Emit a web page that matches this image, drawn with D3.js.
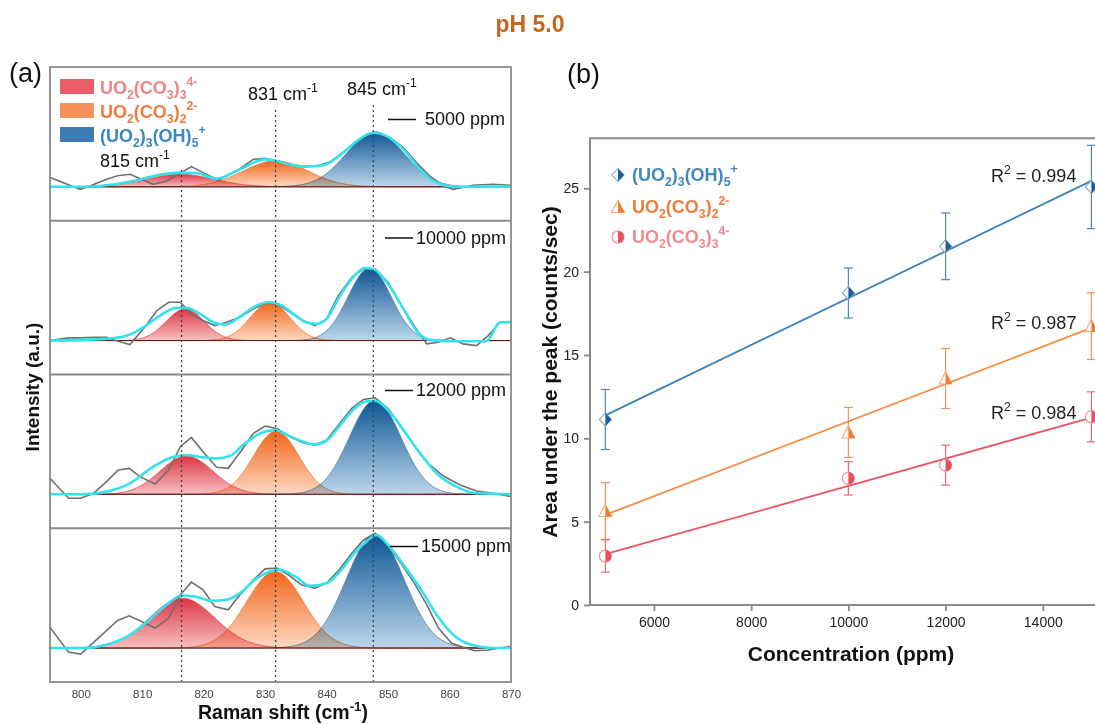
<!DOCTYPE html>
<html>
<head>
<meta charset="utf-8">
<script src="https://cdn.jsdelivr.net/npm/d3@7"></script>
<style>
  body { margin: 0; background: #fff; }
  svg { display: block; font-family: "Liberation Sans", Arial, sans-serif; }
</style>
</head>
<body>
<svg id="chart" width="1095" height="724"></svg>
<script>
// ---------- data: panel (a) Raman spectra ----------
const concLabels = ["5000 ppm", "10000 ppm", "12000 ppm", "15000 ppm"];
const guideShifts = [816.4, 831.7, 847.6];   // dotted guide positions (cm-1)
const guideLabels = ["815", "831", "845"];
const ramanTicks = [800, 810, 820, 830, 840, 850, 860, 870];

// fitted components [center, height, sigma] -> red UO2(CO3)3, orange UO2(CO3)2, blue (UO2)3(OH)5
const peaks5000  = [[816.2, 12.5, 5.5], [831.7, 26, 5.3], [847.9, 55, 4.7]];
const peaks10000 = [[817.0, 31.7, 3.1], [830.8, 38.3, 3.2], [847.0, 72.7, 3.5]];
const peaks12000 = [[817.2, 38.3, 4.3], [831.8, 63.3, 3.7], [847.9, 94.3, 4.2]];
const peaks15000 = [[816.5, 50, 5.3], [831.6, 76.7, 4.6], [847.9, 114, 4.7]];

// measured spectra [shift, intensity]
const raw5000 = [[795,9.2],[799.9,-2.5],[802,2],[804,7],[806,11],[808,12.5],[811.8,2.5],[814,5.8],[818,20.2],[819.9,14.2],[822.4,6.5],[825.9,18.2],[828.1,27.5],[830,28.5],[831.9,25.8],[834,22.5],[836.2,20.2],[838.4,20.8],[840.5,24.8],[842.2,32.5],[844.3,42.5],[846.5,52.5],[848.1,54.8],[850.3,49.2],[852.5,39.2],[854.6,24.2],[856.8,10.8],[859,0.8],[860.6,-2.5],[863.8,1.5],[867.1,2.5],[870,1.5]];
const raw10000 = [[795,0],[798,2.7],[800,2.7],[802.1,3.3],[804.2,3.3],[806.1,-0.7],[808,-4],[810.2,11.7],[812.4,30],[814.3,38.3],[816.2,38.3],[818,26.7],[819.9,20],[821.8,15],[823.7,18.3],[825.9,23.3],[828.1,31.7],[830,37.3],[831.9,36.7],[833.8,29.3],[835.9,20.7],[838.1,15],[840,21.7],[841.9,45],[844.1,63.3],[846,71.7],[847.9,71.7],[850,58.3],[852.2,35],[854.4,13.3],[856.3,-3.3],[858.2,-1.7],[860.1,2.7],[862.2,-3.3],[864.4,-5],[866.3,5],[868.2,18.3],[870,18.3]];
const raw12000 = [[795,16],[798,-4],[800,-4],[802.1,1],[804.2,12.7],[806.1,24.3],[807.9,26],[809.6,17.7],[812.1,10.3],[814.3,24.3],[816.2,47.7],[818,57],[819.9,42.7],[822.1,27],[824,26],[826.2,44.3],[828.1,61],[830,68.3],[831.9,66],[834,57.7],[836.2,51.7],[838.1,49.3],[840,54.3],[841.9,69.3],[844.1,86],[846,95],[847.9,96.7],[850,86],[852.2,67.7],[854.4,47.7],[856.5,31],[859,18.3],[861.7,9.3],[864.4,3.3],[867.1,1],[870,-2.3]];
const raw15000 = [[795,20.7],[798,-4],[800,-6],[806,27.7],[807.9,32.3],[812.1,20],[814.3,30],[816.2,53.3],[818,66],[819.9,58.3],[821.8,41.7],[824,38.3],[825.9,53.3],[828.1,68.3],[830,79.3],[831.9,80],[833.8,73.3],[835.9,63.3],[838.1,60],[840,65],[841.9,77.3],[844.1,95],[846,108.3],[847.9,115],[849.8,105],[851.9,86.7],[854.1,66.7],[856.3,43.3],[858.2,20],[860.3,5],[862.2,0.7],[864.1,-2.7],[866.3,-2],[868.2,0],[870,1.7]];

// cumulative fit envelopes [shift, intensity]
const fit5000 = [[795,0],[800,0],[803,0.8],[808.6,5.8],[812.4,11.5],[816.1,14.2],[818.9,13.5],[822.1,8.2],[825.9,17.5],[830,27.5],[831.9,25.8],[834.6,21.5],[836.7,20.2],[839.4,21.5],[842.2,31.7],[844.9,45.8],[847.6,54.2],[849.8,50.8],[852.5,37.5],[855.2,17.5],[857.9,4.2],[861.1,0],[870,0]];
const fit10000 = [[795,0],[804.2,1.7],[807.5,5],[810.2,13.3],[812.9,25],[815.6,32.7],[817.2,32.7],[819.4,26.7],[821.6,18.3],[823.5,16],[825.9,24],[828.1,33.3],[830.5,38.3],[832.4,36],[834.6,26.7],[836.7,18.3],[838.4,16.7],[840,21.7],[842.2,45],[844.3,63.3],[846.2,72.7],[847.6,71.7],[850,56.7],[852.5,31.7],[854.6,10],[856.8,0.7],[860.6,-0.7],[866,-0.7],[868.2,18.3],[870,18.3]];
const fit12000 = [[795,0],[800.4,0],[804.2,2.7],[808,11],[811.8,27.7],[815.1,37.7],[817.2,39.3],[819.9,37],[822.1,36],[824.3,38.3],[826.4,49.3],[829.2,61],[831.6,64.3],[834,58.3],[836.2,52.7],[838.1,50],[840,53.7],[842.2,69.3],[844.3,84.3],[846.2,92.7],[847.9,93.7],[850,84.3],[852.5,64.3],[855.2,41],[857.9,21],[861.1,7.7],[864.4,1],[870,0]];
const fit15000 = [[795,0],[800.4,0],[804.2,3.3],[808,13.3],[811.8,31.7],[814.3,45],[816.4,52.7],[818.6,51.7],[821.3,47.3],[823.7,48.3],[825.9,55],[828.3,68.3],[830.8,76.7],[832.4,78.3],[834.9,71.7],[837.3,62.3],[840,65],[842.2,76.7],[844.3,93.3],[846.5,106.7],[848.1,113.3],[850,103.3],[852.5,83.3],[855.2,60],[857.9,33.3],[860.6,13.3],[863.8,2.7],[867.1,0],[870,0]];

// ---------- data: panel (b) peak areas ----------
const concentrations = [5000, 10000, 12000, 15000];
const areaOH  = [11.13, 18.72, 21.52, 25.08];
const errOH   = [1.8, 1.5, 2.0, 2.5];
const areaCO2 = [5.64, 10.35, 13.59, 16.73];
const errCO2  = [1.7, 1.5, 1.8, 2.0];
const areaCO3 = [2.94, 7.6, 8.39, 11.29];
const errCO3  = [0.97, 1.0, 1.2, 1.5];
const r2Values = ["0.994", "0.987", "0.984"];
const concTicks = [6000, 8000, 10000, 12000, 14000];
const areaTicks = [0, 5, 10, 15, 20, 25];

// formulas as [text, mode] runs
const fCO3 = [["UO",""],["2","sub"],["(CO",""],["3","sub"],[")",""],["3","sub"],["4-","sup"]];
const fCO2 = [["UO",""],["2","sub"],["(CO",""],["3","sub"],[")",""],["2","sub"],["2-","sup"]];
const fOH  = [["(UO",""],["2","sub"],[")",""],["3","sub"],["(OH)",""],["5","sub"],["+","sup"]];

// ---------- helpers ----------
const svg = d3.select("#chart");
const defs = svg.append("defs");

function richText(sel, parts, fs) {
  let shift = 0;
  parts.forEach(([t, m]) => {
    const target = m === "sub" ? 0.28 * fs : m === "sup" ? -0.42 * fs : 0;
    sel.append("tspan")
      .attr("dy", target - shift)
      .attr("font-size", m ? fs * 0.68 : fs)
      .text(t);
    shift = target;
  });
  return sel;
}

// title
svg.append("text")
  .attr("x", 530).attr("y", 32)
  .attr("text-anchor", "middle")
  .attr("font-size", 23).attr("font-weight", "bold")
  .attr("fill", "#c7651f")
  .text("pH 5.0");

svg.append("text").attr("x", 9).attr("y", 82).attr("font-size", 27).attr("fill", "#111").text("(a)");
svg.append("text").attr("x", 567).attr("y", 83).attr("font-size", 27).attr("fill", "#111").text("(b)");

// ================= panel (a) =================
const aLeft = 50, aRight = 511, aTop = 67, panelH = 153.75;
const ax = d3.scaleLinear().domain([795, 870]).range([aLeft, aRight]);
const aBottom = aTop + panelH * 4;

const peakStyles = [
  { id: "gRed",    top: "#dc3645", bottom: "#f7c0c0", line: "#d9505a" },
  { id: "gOrange", top: "#f2661c", bottom: "#fdd8c2", line: "#ee7a3e" },
  { id: "gBlue",   top: "#0d5594", bottom: "#bcd7ec", line: "#5d7f9e" }
];
peakStyles.forEach(s => {
  const g = defs.append("linearGradient").attr("id", s.id)
    .attr("x1", 0).attr("y1", 0).attr("x2", 0).attr("y2", 1);
  g.append("stop").attr("offset", "0%").attr("stop-color", s.top);
  g.append("stop").attr("offset", "100%").attr("stop-color", s.bottom);
});

const peakSets = [peaks5000, peaks10000, peaks12000, peaks15000];
const rawSets = [raw5000, raw10000, raw12000, raw15000];
const fitSets = [fit5000, fit10000, fit12000, fit15000];
const grid = d3.range(795, 870.01, 0.25);

const aGroup = svg.append("g");

peakSets.forEach((peaks, i) => {
  const top = aTop + panelH * i;
  const y = d3.scaleLinear().domain([-34, 120]).range([top + panelH, top]);
  const g = aGroup.append("g");

  peaks.forEach(([c, h, s], k) => {
    const pts = grid.map(x => [x, h * Math.exp(-((x - c) ** 2) / (2 * s * s))]);
    g.append("path")
      .datum(pts)
      .attr("d", d3.area().x(d => ax(d[0])).y0(y(0)).y1(d => y(d[1])))
      .attr("fill", `url(#${peakStyles[k].id})`)
      .attr("stroke", peakStyles[k].line)
      .attr("stroke-width", 0.8)
      .style("mix-blend-mode", "multiply");
  });

  g.append("path")
    .datum(rawSets[i])
    .attr("d", d3.line().x(d => ax(d[0])).y(d => y(d[1])))
    .attr("fill", "none").attr("stroke", "#707070").attr("stroke-width", 1.6);

  g.append("path")
    .datum(fitSets[i])
    .attr("d", d3.line().curve(d3.curveMonotoneX).x(d => ax(d[0])).y(d => y(d[1])))
    .attr("fill", "none").attr("stroke", "#30e3ec").attr("stroke-width", 2.6);
});

// dotted guides
const guideStart = [170, 110, 105];
guideShifts.forEach((v, i) => {
  aGroup.append("line")
    .attr("x1", ax(v)).attr("x2", ax(v))
    .attr("y1", guideStart[i]).attr("y2", aBottom)
    .attr("stroke", "#444").attr("stroke-width", 1.3)
    .attr("stroke-dasharray", "2,3");
});

// frame and dividers
aGroup.append("rect")
  .attr("x", aLeft).attr("y", aTop)
  .attr("width", aRight - aLeft).attr("height", aBottom - aTop)
  .attr("fill", "none").attr("stroke", "#8a8a8a").attr("stroke-width", 1.8);
[1, 2, 3].forEach(i => {
  aGroup.append("line")
    .attr("x1", aLeft).attr("x2", aRight)
    .attr("y1", aTop + panelH * i).attr("y2", aTop + panelH * i)
    .attr("stroke", "#8a8a8a").attr("stroke-width", 1.8);
});

// concentration tags
const tagBase = [125, 243.5, 396, 552];
concLabels.forEach((t, i) => {
  const lx = i === 0 ? 388 : (i === 3 ? 390 : 385);
  aGroup.append("line")
    .attr("x1", lx).attr("x2", lx + 28)
    .attr("y1", tagBase[i] - 5.5).attr("y2", tagBase[i] - 5.5)
    .attr("stroke", "#111").attr("stroke-width", 1.5);
  aGroup.append("text")
    .attr("x", lx + (i === 0 ? 37 : 31)).attr("y", tagBase[i])
    .attr("font-size", 18).attr("fill", "#111").text(t);
});

// peak position labels
const guideLabelPos = [[100, 167], [248, 100], [347, 95]];
guideLabels.forEach((t, i) => {
  const txt = aGroup.append("text")
    .attr("x", guideLabelPos[i][0]).attr("y", guideLabelPos[i][1])
    .attr("fill", "#111");
  richText(txt, [[t + " cm", ""], ["-1", "sup"]], 18);
});

// legend (a)
const legendA = [
  { parts: fCO3, box: "#e85d68", text: "#f08484" },
  { parts: fCO2, box: "#f5915b", text: "#f07a3c" },
  { parts: fOH,  box: "#3c7cb2", text: "#3a88c0" }
];
legendA.forEach((d, i) => {
  const yy = 79 + i * 24;
  aGroup.append("rect").attr("x", 60).attr("y", yy).attr("width", 34).attr("height", 15).attr("fill", d.box);
  const txt = aGroup.append("text")
    .attr("x", 100).attr("y", yy + 14.5)
    .attr("font-weight", "bold").attr("fill", d.text);
  richText(txt, d.parts, 18);
});

// x axis (a)
const axA = aGroup.append("g")
  .attr("transform", `translate(0,${aBottom})`)
  .call(d3.axisBottom(ax).tickValues(ramanTicks).tickSize(0).tickPadding(8));
axA.select(".domain").remove();
axA.selectAll("text").attr("font-size", 11.5).attr("fill", "#444")
  .attr("font-family", "'Liberation Sans', Arial, sans-serif");

const ramanTitle = aGroup.append("text")
  .attr("x", 283).attr("y", 719)
  .attr("text-anchor", "middle")
  .attr("font-weight", "bold").attr("fill", "#111");
richText(ramanTitle, [["Raman shift (cm", ""], ["-1", "sup"], [")", ""]], 19.5);

aGroup.append("text")
  .attr("transform", "translate(39,387) rotate(-90)")
  .attr("text-anchor", "middle")
  .attr("font-size", 19).attr("font-weight", "bold").attr("fill", "#111")
  .text("Intensity (a.u.)");

// ================= panel (b) =================
const bx = d3.scaleLinear().domain([4684, 16000]).range([590, 1140]);
const by = d3.scaleLinear().domain([0, 28]).range([605, 138.3]);
const bGroup = svg.append("g");

const shapes = {
  diamond:  { full: "M0,-6.5L6,0L0,6.5L-6,0Z", half: "M0,-6.5L6,0L0,6.5Z" },
  triangle: { full: "M0,-6.5L6.5,5.5L-6.5,5.5Z", half: "M0,-6.5L6.5,5.5L0,5.5Z" },
  circle:   { full: "M0,-6A6,6 0 1,1 0,6A6,6 0 1,1 0,-6Z", half: "M0,-6A6,6 0 0,1 0,6Z" }
};

const seriesB = [
  { parts: fOH,  vals: areaOH,  err: errOH,  r2: r2Values[0], shape: "diamond",
    line: "#3b82b8", errc: "#4a8abd", fill: "#1d5f9b", hollow: "#7ea6cc", text: "#3f87bf" },
  { parts: fCO2, vals: areaCO2, err: errCO2, r2: r2Values[1], shape: "triangle",
    line: "#f7883e", errc: "#f6905a", fill: "#f37a2e", hollow: "#f7a679", text: "#f07a3a" },
  { parts: fCO3, vals: areaCO3, err: errCO3, r2: r2Values[2], shape: "circle",
    line: "#ec5464", errc: "#ec6672", fill: "#e8505c", hollow: "#f08c94", text: "#f08a8e" }
];

function linFit(xs, ys) {
  const mx = d3.mean(xs), my = d3.mean(ys);
  const sxy = d3.sum(xs, (x, i) => (x - mx) * (ys[i] - my));
  const sxx = d3.sum(xs, x => (x - mx) ** 2);
  const m = sxy / sxx;
  return [m, my - m * mx];
}

// frame
bGroup.append("rect")
  .attr("x", 590).attr("y", by(28))
  .attr("width", 550).attr("height", by(0) - by(28))
  .attr("fill", "none").attr("stroke", "#8a8a8a").attr("stroke-width", 2);

const xAxB = bGroup.append("g")
  .attr("transform", `translate(0,${by(0)})`)
  .call(d3.axisBottom(bx).tickValues(concTicks).tickFormat(d3.format("d")).tickSize(6).tickPadding(6));
const yAxB = bGroup.append("g")
  .attr("transform", "translate(590,0)")
  .call(d3.axisLeft(by).tickValues(areaTicks).tickFormat(d3.format("d")).tickSize(6).tickPadding(5));
[xAxB, yAxB].forEach(a => {
  a.select(".domain").remove();
  a.selectAll("line").attr("stroke", "#8a8a8a").attr("stroke-width", 1.8);
  a.selectAll("text").attr("font-size", 14).attr("fill", "#222")
    .attr("font-family", "'Liberation Sans', Arial, sans-serif");
});

seriesB.forEach(s => {
  const [m, b] = linFit(concentrations, s.vals);
  const x0 = d3.min(concentrations), x1 = d3.max(concentrations);
  bGroup.append("line")
    .attr("x1", bx(x0)).attr("y1", by(m * x0 + b))
    .attr("x2", bx(x1)).attr("y2", by(m * x1 + b))
    .attr("stroke", s.line).attr("stroke-width", 1.8);

  // error bars
  concentrations.forEach((c, i) => {
    const cx = bx(c), hi = by(s.vals[i] + s.err[i]), lo = by(s.vals[i] - s.err[i]);
    const eg = bGroup.append("g").attr("stroke", s.errc).attr("stroke-width", 1.2);
    eg.append("line").attr("x1", cx).attr("x2", cx).attr("y1", hi).attr("y2", lo);
    eg.append("line").attr("x1", cx - 4.5).attr("x2", cx + 4.5).attr("y1", hi).attr("y2", hi);
    eg.append("line").attr("x1", cx - 4.5).attr("x2", cx + 4.5).attr("y1", lo).attr("y2", lo);
  });

  // half-filled markers
  const mk = bGroup.selectAll(null).data(concentrations.map((c, i) => [c, s.vals[i]]))
    .enter().append("g")
    .attr("transform", d => `translate(${bx(d[0])},${by(d[1])})`);
  mk.append("path").attr("d", shapes[s.shape].full)
    .attr("fill", "#fff").attr("stroke", s.hollow).attr("stroke-width", 1.1);
  mk.append("path").attr("d", shapes[s.shape].half).attr("fill", s.fill);

  // R² label
  const yEnd = by(m * x1 + b);
  const rt = bGroup.append("text")
    .attr("x", bx(x1) - 15).attr("y", yEnd + 1)
    .attr("text-anchor", "end").attr("fill", "#222");
  richText(rt, [["R", ""], ["2", "sup"], [" = " + s.r2, ""]], 18);
});

// legend (b)
const legendRowsY = [175, 207, 237];
seriesB.forEach((s, i) => {
  const g = bGroup.append("g").attr("transform", `translate(618,${legendRowsY[i]})`);
  g.append("path").attr("d", shapes[s.shape].full)
    .attr("fill", "#fff").attr("stroke", s.hollow).attr("stroke-width", 1.1);
  g.append("path").attr("d", shapes[s.shape].half).attr("fill", s.fill);
  const txt = bGroup.append("text")
    .attr("x", 632).attr("y", legendRowsY[i] + 6)
    .attr("font-weight", "bold").attr("fill", s.text);
  richText(txt, s.parts, 18);
});

bGroup.append("text")
  .attr("x", 851).attr("y", 661)
  .attr("text-anchor", "middle")
  .attr("font-size", 21).attr("font-weight", "bold").attr("fill", "#111")
  .text("Concentration (ppm)");

bGroup.append("text")
  .attr("transform", "translate(557,372) rotate(-90)")
  .attr("text-anchor", "middle")
  .attr("font-size", 21).attr("font-weight", "bold").attr("fill", "#111")
  .text("Area under the peak (counts/sec)");
</script>
</body>
</html>
